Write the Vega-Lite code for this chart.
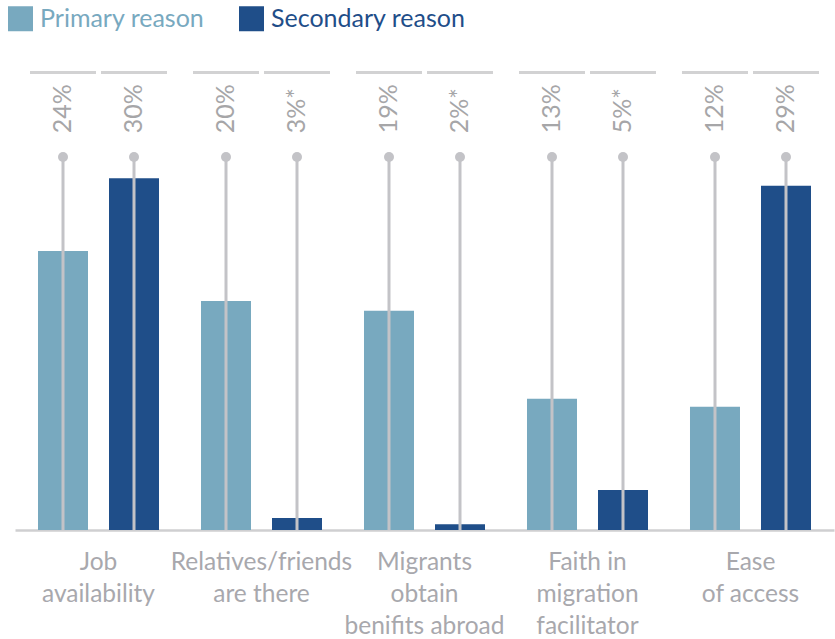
{
  "$schema": "https://vega.github.io/schema/vega-lite/v6.json",
  "width": 819,
  "height": 490,
  "autosize": {"type": "none"},
  "padding": {"left": 15, "top": 40, "right": 1, "bottom": 109},
  "background": "white",
  "config": {"view": {"stroke": null}, "font": "Lato"},
  "data": {
    "values": [
      {"category": "Job availability", "reason": "Primary reason", "value": 23.85, "label": "24%"},
      {"category": "Job availability", "reason": "Secondary reason", "value": 30.06, "label": "30%"},
      {"category": "Relatives/friends are there", "reason": "Primary reason", "value": 19.57, "label": "20%"},
      {"category": "Relatives/friends are there", "reason": "Secondary reason", "value": 1.03, "label": "3%*"},
      {"category": "Migrants obtain benifits abroad", "reason": "Primary reason", "value": 18.74, "label": "19%"},
      {"category": "Migrants obtain benifits abroad", "reason": "Secondary reason", "value": 0.49, "label": "2%*"},
      {"category": "Faith in migration facilitator", "reason": "Primary reason", "value": 11.22, "label": "13%"},
      {"category": "Faith in migration facilitator", "reason": "Secondary reason", "value": 3.42, "label": "5%*"},
      {"category": "Ease of access", "reason": "Primary reason", "value": 10.54, "label": "12%"},
      {"category": "Ease of access", "reason": "Secondary reason", "value": 29.43, "label": "29%"}
    ]
  },
  "encoding": {
    "x": {
      "field": "category",
      "type": "nominal",
      "sort": null,
      "scale": {"paddingInner": 0.1288, "paddingOuter": 0.0767},
      "axis": {
        "title": null,
        "ticks": false,
        "labelAngle": 0,
        "labelPadding": 20,
        "labelFontSize": 24.5,
        "labelColor": "#a8a8ad",
        "labelLineHeight": 32,
        "labelBaseline": "top",
        "labelLimit": 300,
        "domainColor": "#cfcfd1",
        "domainWidth": 2.5,
        "labelExpr": "datum.label == 'Job availability' ? ['Job','availability'] : datum.label == 'Relatives/friends are there' ? ['Relatives/friends','are there'] : datum.label == 'Migrants obtain benifits abroad' ? ['Migrants','obtain','benifits abroad'] : datum.label == 'Faith in migration facilitator' ? ['Faith in','migration','facilitator'] : ['Ease','of access']"
      }
    },
    "xOffset": {
      "field": "reason",
      "type": "nominal",
      "scale": {"paddingInner": 0.2958, "paddingOuter": 0.1479}
    }
  },
  "layer": [
    {
      "mark": {"type": "bar"},
      "encoding": {
        "y": {"field": "value", "type": "quantitative", "scale": {"domain": [0, 41.88]}, "axis": null},
        "color": {
          "field": "reason",
          "type": "nominal",
          "scale": {"domain": ["Primary reason", "Secondary reason"], "range": ["#78a9bf", "#1f4e89"]},
          "legend": {
            "orient": "none",
            "legendX": -7,
            "legendY": -34,
            "direction": "horizontal",
            "title": null,
            "padding": 0,
            "symbolType": "square",
            "symbolSize": 625,
            "symbolStrokeWidth": 0,
            "symbolOpacity": 1,
            "labelFontSize": 25,
            "labelOffset": 7,
            "columnPadding": 34,
            "labelLimit": 300,
            "encode": {"labels": {"update": {"fill": {"signal": "datum.value === 'Primary reason' ? '#78a9bf' : '#1f4e89'"}}}}
          }
        }
      }
    },
    {
      "mark": {"type": "rule", "color": "#c3c3c7", "strokeWidth": 3},
      "encoding": {
        "y": {"datum": 0, "type": "quantitative", "scale": {"domain": [0, 41.88]}, "axis": null},
        "y2": {"datum": 31.88}
      }
    },
    {
      "mark": {"type": "point", "filled": true, "size": 100, "color": "#c3c3c7", "opacity": 1},
      "encoding": {
        "y": {"datum": 31.88, "type": "quantitative", "scale": {"domain": [0, 41.88]}, "axis": null}
      }
    },
    {
      "mark": {"type": "text", "angle": 270, "align": "left", "baseline": "middle", "fontSize": 25, "color": "#a6a6a8"},
      "encoding": {
        "y": {"datum": 33.9, "type": "quantitative", "scale": {"domain": [0, 41.88]}, "axis": null},
        "text": {"field": "label"}
      }
    },
    {
      "mark": {"type": "tick", "orient": "horizontal", "size": 66, "thickness": 3, "color": "#bfbfc1"},
      "encoding": {
        "y": {"datum": 39.1, "type": "quantitative", "scale": {"domain": [0, 41.88]}, "axis": null}
      }
    }
  ]
}
